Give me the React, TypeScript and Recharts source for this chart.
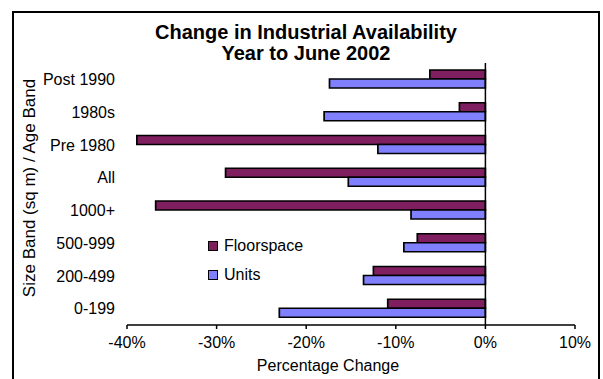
import React from 'react'
import {
    BarChart,
    Bar,
    XAxis,
    YAxis,
    Legend,
    ReferenceLine,
} from 'recharts'

// categories, top to bottom as drawn
const categories = ['Post 1990', '1980s', 'Pre 1980', 'All', '1000+', '500-999', '200-499', '0-199']
const floorspace = [-6.2, -2.9, -38.9, -29.0, -36.8, -7.6, -12.5, -10.9]
const units = [-17.4, -18.0, -12.0, -15.3, -8.3, -9.1, -13.6, -23.0]
const xTicks = [-40, -30, -20, -10, 0, 10]

const FLOOR_COLOR = '#7f1f5f'
const UNITS_COLOR = '#8080ff'
const FONT = '"Liberation Sans", Arial, sans-serif'

const data = categories.map((c, i) => ({
    category: c,
    Floorspace: floorspace[i],
    Units: units[i],
}))

const LegendContent = ({ payload }: any) => (
    <div style={{ fontFamily: FONT, fontSize: 16, color: '#000' }}>
        {(payload || []).map((p: any) => (
            <div key={p.value} style={{ display: 'flex', alignItems: 'center', height: 29 }}>
                <span
                    style={{
                        display: 'inline-block',
                        width: 8,
                        height: 8,
                        background: p.color,
                        border: '1.5px solid #000',
                        marginRight: 6,
                    }}
                />
                {p.value}
            </div>
        ))}
    </div>
)

export default function App() {
    return (
        <div style={{ position: 'absolute', left: 0, top: 0, width: 603, height: 379, overflow: 'hidden', background: '#fff' }}>
            <div
                style={{
                    position: 'absolute',
                    left: 12,
                    top: 11,
                    width: 588,
                    height: 420,
                    border: '2px solid #000',
                    boxSizing: 'border-box',
                }}
            />
            <div
                style={{
                    position: 'absolute',
                    left: 0,
                    top: 22,
                    width: 612,
                    textAlign: 'center',
                    fontFamily: FONT,
                    fontWeight: 'bold',
                    fontSize: 20,
                    lineHeight: '21px',
                    color: '#000',
                }}
            >
                <div>Change in Industrial Availability</div>
                <div>Year to June 2002</div>
            </div>
            <div style={{ position: 'absolute', left: 0, top: 0 }}>
                <BarChart
                    width={603}
                    height={379}
                    data={data}
                    layout="vertical"
                    margin={{ top: 63, right: 28, bottom: 24, left: 22 }}
                    barSize={9}
                    barGap={0}
                >
                    <XAxis
                        type="number"
                        domain={[-40, 10]}
                        ticks={xTicks}
                        tickFormatter={(v: number) => `${v}%`}
                        axisLine={{ stroke: '#000', strokeWidth: 1.5 }}
                        tickLine={{ stroke: '#000', strokeWidth: 1.5 }}
                        tickSize={4}
                        tickMargin={8}
                        tick={{ fill: '#000', fontSize: 16, fontFamily: FONT }}
                        height={30}
                        interval={0}
                        label={{
                            value: 'Percentage Change',
                            position: 'insideBottom',
                            offset: -16,
                            dx: -23,
                            fill: '#000',
                            fontSize: 16,
                            fontFamily: FONT,
                        }}
                    />
                    <YAxis
                        type="category"
                        dataKey="category"
                        width={105}
                        axisLine={false}
                        tickLine={false}
                        tickSize={0}
                        tickMargin={12}
                        tick={{ fill: '#000', fontSize: 16, fontFamily: FONT }}
                        interval={0}
                        label={{
                            value: 'Size Band (sq m) / Age Band',
                            angle: -90,
                            position: 'insideLeft',
                            offset: 7,
                            dy: -6,
                            fill: '#000',
                            fontSize: 17,
                            fontFamily: FONT,
                            style: { textAnchor: 'middle' },
                        }}
                    />
                    <ReferenceLine x={0} stroke="#000" strokeWidth={1.5} />
                    <Legend
                        layout="horizontal"
                        verticalAlign="middle"
                        align="center"
                        content={<LegendContent />}
                        wrapperStyle={{ left: 208, top: 231, width: 120 }}
                    />
                    <Bar dataKey="Floorspace" fill={FLOOR_COLOR} stroke="#000" strokeWidth={1.7} isAnimationActive={false} />
                    <Bar dataKey="Units" fill={UNITS_COLOR} stroke="#000" strokeWidth={1.7} isAnimationActive={false} />
                </BarChart>
            </div>
        </div>
    )
}
